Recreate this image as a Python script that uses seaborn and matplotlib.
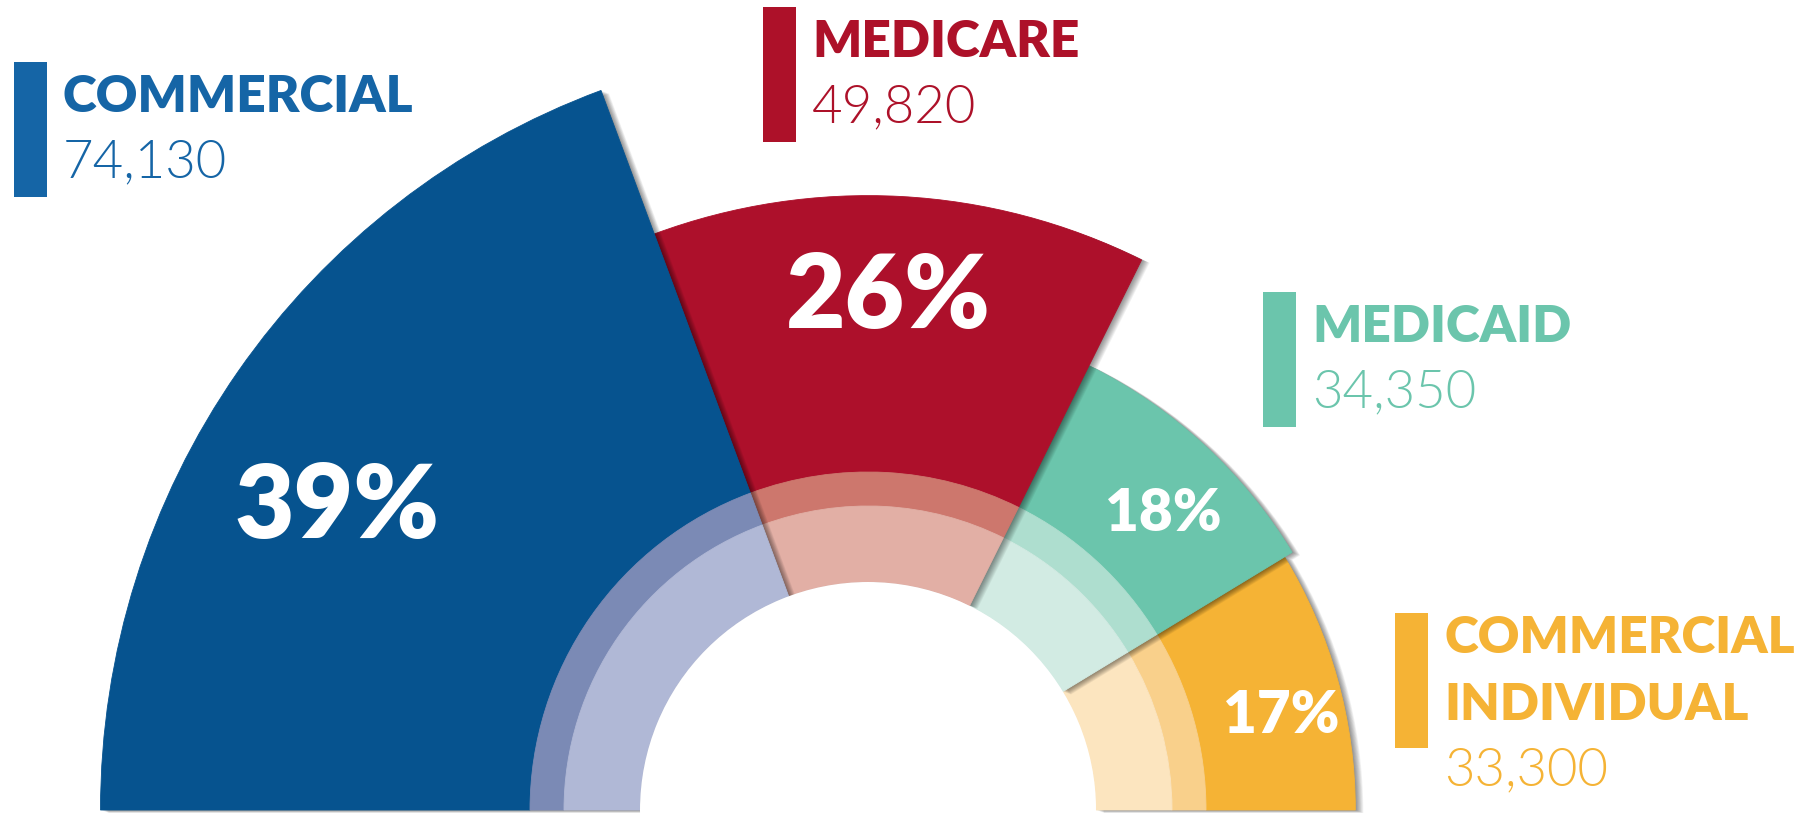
import numpy as np
import matplotlib
matplotlib.use("Agg")
import matplotlib.pyplot as plt
from matplotlib.patches import Wedge, Rectangle
import seaborn as sns

# ---- data ----
categories = ["COMMERCIAL", "MEDICARE", "MEDICAID", "COMMERCIAL\nINDIVIDUAL"]
members = [74130, 49820, 34350, 33300]
pct_labels = ["39%", "26%", "18%", "17%"]
count_labels = ["74,130", "49,820", "34,350", "33,300"]

# ---- colours ----
main_colors = ["#06538F", "#AD102B", "#6BC5AC", "#F5B335"]
mid_colors = ["#7B8AB5", "#CD776D", "#AEDECF", "#F9D08B"]
pale_colors = ["#B0B8D6", "#E2AFA5", "#D2EBE3", "#FCE5BF"]
label_colors = ["#1565A6", "#AD1129", "#6BC5AC", "#F5B335"]

# ---- layout (pixels, y measured from the top) ----
W, H = 1800, 813
cx, cy = 868, 810
r_hole, r_pale, r_mid = 228, 304, 338
# legend blocks: bar left x, bar top
legend_pos = [(14, 62), (763, 7), (1263, 292), (1395, 613)]
# percentage labels: angle (deg), radius, font size
pct_pos = [(149.8, 614, 74), (87.8, 519, 74), (45.4, 421, 42), (13.3, 425, 42)]

sns.set_theme(style="white")
plt.rcParams["font.family"] = ["Lato", "DejaVu Sans"]

fig = plt.figure(figsize=(18, 8.13), dpi=100)
ax = fig.add_axes([0, 0, 1, 1])
ax.set_xlim(0, W)
ax.set_ylim(0, H)
ax.axis("off")


def Y(py):
    # pixel row -> data y
    return H - py


center = (cx, Y(cy))
total = sum(members)
spans = [180 * m / total for m in members]
starts = 180 - np.cumsum([0] + spans[:-1])
outer = [3.12 * np.sqrt(m) - 82 for m in members]

# draw back to front so each segment casts its shadow on the next one
for i in reversed(range(len(members))):
    t2 = starts[i]
    t1 = t2 - spans[i]
    R = outer[i]
    for k in range(1, 11):
        ax.add_patch(Wedge((cx + k * 0.8, Y(cy) - k * 0.3), R, t1, t2,
                           width=R - r_hole, fc="black", ec="none", alpha=0.05))
    ax.add_patch(Wedge(center, R, t1, t2, width=R - r_mid,
                       fc=main_colors[i], ec=main_colors[i], lw=0.6))
    ax.add_patch(Wedge(center, r_mid, t1, t2, width=r_mid - r_pale,
                       fc=mid_colors[i], ec=mid_colors[i], lw=0.6))
    ax.add_patch(Wedge(center, r_pale, t1, t2, width=r_pale - r_hole,
                       fc=pale_colors[i], ec=pale_colors[i], lw=0.6))

# clean white hole
ax.add_patch(Wedge(center, r_hole, 0, 360, fc="white", ec="none"))

# percentage labels
px_per_pt = 100 / 72
for lab, (ang, r, fs) in zip(pct_labels, pct_pos):
    x = cx + r * np.cos(np.radians(ang))
    y = Y(cy) + r * np.sin(np.radians(ang))
    cap = 0.72 * fs * px_per_pt
    ax.text(x, y - cap / 2, lab, color="white", fontsize=fs, fontweight="heavy",
            ha="center", va="baseline")

# legend blocks
for cat, num, col, (bx, btop) in zip(categories, count_labels, label_colors, legend_pos):
    lines = cat.split("\n")
    tx = bx + 49
    first_base = btop + 50 if len(lines) == 1 else btop + 40
    gap = 67
    n_lines = len(lines)
    ax.add_patch(Rectangle((bx, Y(btop + 135)), 33, 135, fc=col, ec="none"))
    for j, line in enumerate(lines):
        ax.text(tx, Y(first_base + j * gap), line, color=col, fontsize=37,
                fontweight="heavy", ha="left", va="baseline")
    ax.text(tx, Y(first_base + n_lines * gap - 2), num, color=col, fontsize=38,
            fontweight=300, ha="left", va="baseline")

fig.savefig("out.png", dpi=100, facecolor="white")
